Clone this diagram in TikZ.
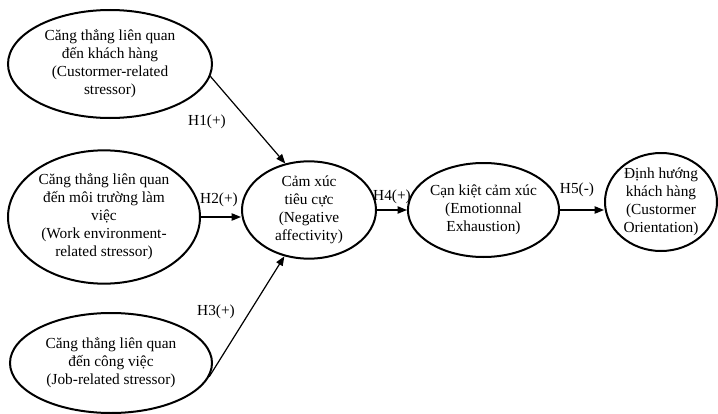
\documentclass[tikz,border=0pt]{standalone}
\usepackage{fontspec}
\setmainfont{Liberation Serif}
\usetikzlibrary{arrows.meta}
\usetikzlibrary{shapes,positioning}

\begin{document}
\begin{tikzpicture}[x=0.75pt, y=-0.75pt]
            \tikzstyle{construct} = [draw, ellipse, line width=1.5pt, inner sep=0pt, align=center, font=\fontsize{11.5}{13.5}\selectfont]
            \tikzstyle{arrow} = [line width=0.9pt, -{Triangle[length=7pt,width=5.5pt]}]
            \tikzstyle{hyp} = [font=\fontsize{11.5}{13.5}\selectfont]

            \useasboundingbox (0, 0) rectangle (718, 414);

            \node[construct, minimum width=153pt, minimum height=81pt] (custStress) at (110, 64)
                {Căng thẳng liên quan\\đến khách hàng\\(Custormer-related\\stressor)};
            \node[construct, minimum width=144pt, minimum height=100pt] (workStress) at (104, 217)
                {Căng thẳng liên quan\\đến môi trường làm\\việc\\(Work environment-\\related stressor)};
            \node[construct, minimum width=151.5pt, minimum height=75pt] (jobStress) at (111, 363)
                {Căng thẳng liên quan\\đến công việc\\(Job-related stressor)};

            \node[construct, minimum width=100.5pt, minimum height=73pt] (negAff) at (309, 210)
                {Cảm xúc\\tiêu cực\\(Negative\\affectivity)};
            \node[construct, minimum width=103pt, minimum height=70.5pt] (emoExh) at (483.5, 210)
                {Cạn kiệt cảm xúc\\(Emotionnal\\Exhaustion)};
            \node[construct, minimum width=84pt, minimum height=73.5pt] (custOri) at (661, 202)
                {Định hướng\\khách hàng\\(Custormer\\Orientation)};

            \draw [arrow] (custStress.-7) -- (negAff.117);
            \draw [arrow] (workStress.east) -- (negAff.west |- workStress.east);
            \draw [arrow] (jobStress.-8) -- (negAff.242);
            \draw [arrow] (negAff.east) -- (emoExh.west);
            \draw [arrow] (emoExh.east) -- (custOri.west |- emoExh.east);

            \node[hyp] (h1) at (207, 122) {H1(+)};
            \node[hyp] (h2) at (219, 200) {H2(+)};
            \node[hyp] (h3) at (216, 312) {H3(+)};
            \node[hyp] (h4) at (392, 197) {H4(+)};
            \node[hyp] (h5) at (577, 190) {H5(-)};
        \end{tikzpicture}
\end{document}
